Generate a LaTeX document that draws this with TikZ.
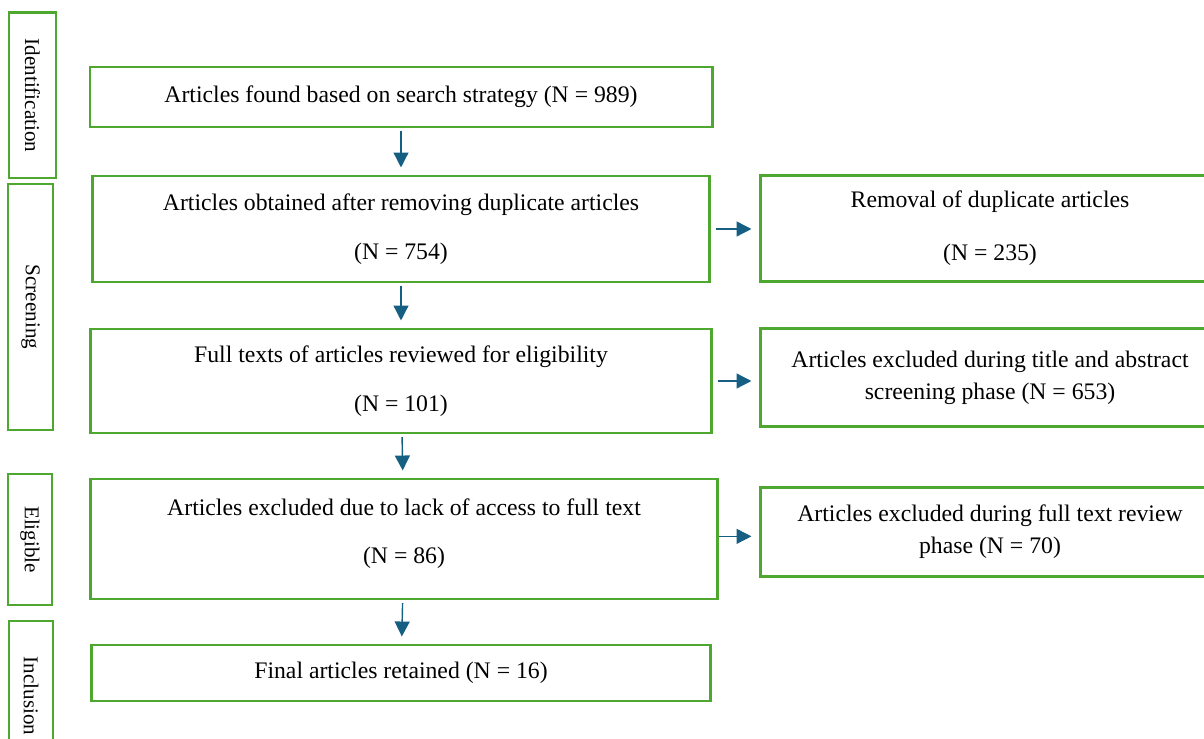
\documentclass[tikz,border=0pt]{standalone}
\usepackage{fontspec}
\setmainfont{Liberation Serif}
\usepackage{xcolor}
\usepackage{tikz}
\usetikzlibrary{positioning,calc,arrows.meta}

\definecolor{boxgreen}{HTML}{4EA72E}
\definecolor{arrowblue}{HTML}{156082}

\tikzset{
    box/.style={draw=boxgreen, line width=1.7pt, fill=white, align=center,
        inner sep=0pt, font=\fontsize{13.5}{16.2}\selectfont},
    phase/.style={box, rotate=-90, font=\fontsize{12}{14.4}\selectfont},
    flow/.style={arrowblue, line width=0.8pt,
        -{Triangle[length=8.5pt,width=8.5pt]},
        shorten <=1.5pt, shorten >=4pt}
}

\begin{document}
\begin{tikzpicture}[x=0.02cm,y=-0.02cm]
    \useasboundingbox (0,0) rectangle (1204,739);

    % Phases
    \node[phase, minimum width=165*0.02cm, minimum height=47*0.02cm] (ident) at (32.5,95.5) {Identification};
    \node[phase, minimum width=246*0.02cm, minimum height=45*0.02cm] (screen) at (30.5,307) {Screening};
    \node[phase, minimum width=131*0.02cm, minimum height=44*0.02cm] (elig) at (30,539.5) {Eligible};
    \node[phase, minimum width=150*0.02cm, minimum height=44*0.02cm] (incl) at (31,696) {Inclusion};

    % Main boxes
    \node[box, minimum width=622*0.02cm, minimum height=60*0.02cm] (found) at (401,97) {Articles found based on search strategy (N = 989)};
    \node[box, minimum width=617*0.02cm, minimum height=106*0.02cm] (dedup) at (401,229) {Articles obtained after removing duplicate articles\\[12pt](N = 754)};
    \node[box, minimum width=621*0.02cm, minimum height=104*0.02cm] (full) at (401,381) {Full texts of articles reviewed for eligibility\\[11.5pt](N = 101)};
    \node[box, minimum width=627*0.02cm, minimum height=120*0.02cm] (access) at (404,539) {Articles excluded due to lack of access to full text\\[11pt](N = 86)\\[-7pt]\mbox{}};
    \node[box, minimum width=619*0.02cm, minimum height=56*0.02cm] (final) at (401,673) {Final articles retained (N = 16)};

    % Excluded
    \node[box, minimum width=460*0.02cm, minimum height=106*0.02cm] (removed) at (990,228.5) {Removal of duplicate articles\\[14pt](N = 235)};
    \node[box, minimum width=460*0.02cm, minimum height=98*0.02cm] (screenout) at (990,377.5) {Articles excluded during title and abstract\\[2pt]screening phase (N = 653)};
    \node[box, minimum width=460*0.02cm, minimum height=89*0.02cm] (fullout) at (990,532) {Articles excluded during full text review\\[2pt]phase (N = 70)};

    % Arrows
    \coordinate (accout) at ([yshift=1.5pt]access.east);
    \draw[flow] (found) -- (dedup);
    \draw[flow] (dedup) -- (full);
    \draw[flow] (full) -- (access);
    \draw[flow] (access) -- (final);
    \draw[flow, shorten <=3pt] (dedup.east) -- (removed.west |- dedup.east);
    \draw[flow, shorten <=3pt] (full.east) -- (screenout.west |- full.east);
    \draw[flow, shorten <=0pt] (accout) -- (fullout.west |- accout);
\end{tikzpicture}
\end{document}
